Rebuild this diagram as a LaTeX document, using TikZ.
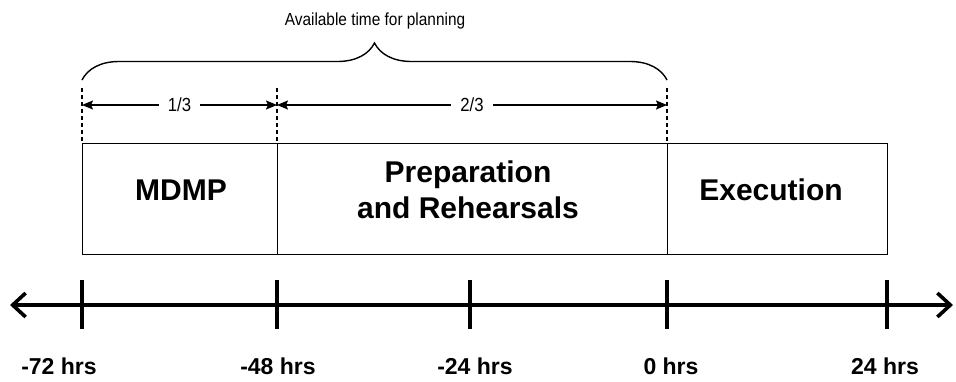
\documentclass[tikz,border=0pt]{standalone}
\usepackage{fontspec}
\setmainfont{Liberation Sans}
\newfontfamily\narrowsans[FakeStretch=0.88]{Liberation Sans}
\usetikzlibrary{arrows.meta,decorations.pathreplacing}
\begin{document}
\begin{tikzpicture}[x=1pt,y=-1pt,
  phase/.style={draw=black,line width=1.2pt,minimum height=111pt,inner sep=0pt,anchor=north west},
  boxlbl/.style={font=\fontsize{30}{36}\selectfont\bfseries,align=center,inner sep=0pt},
  timelbl/.style={font=\fontsize{23}{26}\selectfont\bfseries,inner sep=0pt},
  axisline/.style={line width=3.6pt,{Straight Barb[length=13pt,width=24pt,line width=3.6pt]}-{Straight Barb[length=13pt,width=24pt,line width=3.6pt]}},
  tickline/.style={line width=3.6pt},
  dimline/.style={line width=1.5pt,{Stealth[length=11pt,width=9pt,inset=2pt]}-{Stealth[length=11pt,width=9pt,inset=2pt]}},
  fraclbl/.style={font=\narrowsans\fontsize{19}{21}\selectfont,fill=white,inner xsep=9pt,inner ysep=2pt},
  guide/.style={line width=1.3pt,dash pattern=on 4pt off 3pt},
  bracestyle/.style={line width=1.4pt,decorate,decoration={brace,amplitude=37pt}},
  titlelbl/.style={font=\narrowsans\fontsize{17.5}{20}\selectfont,inner sep=0pt}
]
\useasboundingbox (0,0) rectangle (956,381);

% phase boxes
\node[phase,minimum width=195pt] (mdmp) at (82,143) {};
\node[phase,minimum width=390pt] (prep) at (277,143) {};
\node[phase,minimum width=220pt] (exec) at (667,143) {};
\node[boxlbl] (mdmpT) at (181,190) {MDMP};
\node[boxlbl] (prepT) at (468,190) {Preparation\\and Rehearsals};
\node[boxlbl] (execT) at (771,190) {Execution};

% time axis
\coordinate (axL) at (10,305);
\coordinate (axR) at (953,305);
\draw[axisline] (axL) -- (axR);
\foreach \n/\x in {1/82,2/277,3/470,4/667,5/887}{
  \coordinate (tt\n) at (\x,280);
  \coordinate (tb\n) at (\x,329);
  \draw[tickline] (tt\n) -- (tb\n);
}
\node[timelbl] (l1) at (59,366) {-72 hrs};
\node[timelbl] (l2) at (278,366) {-48 hrs};
\node[timelbl] (l3) at (475,366) {-24 hrs};
\node[timelbl] (l4) at (671,366) {0 hrs};
\node[timelbl] (l5) at (885,366) {24 hrs};

% guides
\coordinate (g1) at (82,88);
\coordinate (g2) at (277,88);
\coordinate (g3) at (667,88);
\draw[guide] (g1) -- (mdmp.north west);
\draw[guide] (g2) -- (prep.north west);
\draw[guide] (g3) -- (exec.north west);

% dimension arrows
\coordinate (a1) at (82,105);
\coordinate (a2) at (277,105);
\coordinate (a3) at (667,105);
\draw[dimline] (a1) -- node[fraclbl] (f1) {1/3} (a2);
\draw[dimline] (a2) -- node[fraclbl] (f2) {2/3} (a3);

% brace and title
\coordinate (br1) at (82,80);
\coordinate (br2) at (667,80);
\draw[bracestyle] (br1) -- (br2);
\node[titlelbl] (title) at (375,21) {Available time for planning};
\end{tikzpicture}
\end{document}
